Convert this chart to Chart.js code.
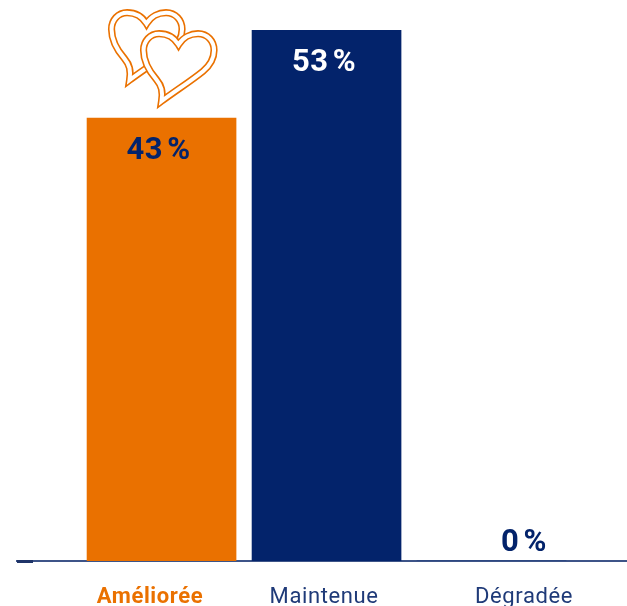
<!DOCTYPE html>
<html><head><meta charset="utf-8">
<script src="https://cdn.jsdelivr.net/npm/chart.js@4"></script>
<style>html,body{margin:0;padding:0;background:#fff}#w{width:627px;height:606px;position:relative}</style>
</head><body><div id="w"><canvas id="c"></canvas></div>
<script>
const categories = ["Améliorée", "Maintenue", "Dégradée"];
const barValues = [44.2, 53, 0];
const valueLabels = ["43 %", "53 %", "0 %"];
const ORANGE = "#EA7100", NAVY = "#03236B";
const FONT = "Roboto, sans-serif";

const heartPath = new Path2D("M178.5 44.5C183 37 191 33.5 198 33.5C207.5 33.5 214 41 214 50C214 58 209.5 65.5 203 71C192 80 175 91 161.5 101C163 91 161.5 85.5 156.5 79.5C150 72 143.5 62 143.5 50C143.5 41 150 33.5 159 33.5C167 33.5 174 37 178.5 44.5Z");

const decor = {
  id: "decor",
  beforeDraw(chart) { chart.ctx.letterSpacing = "0.6px"; },
  afterDatasetsDraw(chart) {
    const ctx = chart.ctx, bars = chart.getDatasetMeta(0).data;
    // value labels
    const style = [[-3, 33, NAVY], [-2.5, 33, "#fff"], [32.5, -18, NAVY]];
    ctx.save();
    ctx.textAlign = "center"; ctx.textBaseline = "middle";
    ctx.font = "700 31px " + FONT;
    ctx.letterSpacing = "0.5px";
    ctx.wordSpacing = "-4px";
    valueLabels.forEach((t, i) => {
      ctx.fillStyle = style[i][2];
      ctx.fillText(t, bars[i].x + style[i][0], bars[i].y + style[i][1]);
    });
    ctx.restore();
    // hearts, anchored on the first bar
    const dx = bars[0].x - 161.5, dy = bars[0].y - 118;
    ctx.save();
    ctx.translate(dx, dy);
    ctx.lineJoin = "miter"; ctx.miterLimit = 10;
    [[-32, -21], [0, 0]].forEach(([x, y]) => {
      ctx.save();
      ctx.translate(x, y);
      ctx.fillStyle = "#fff"; ctx.fill(heartPath);
      ctx.strokeStyle = ORANGE; ctx.lineWidth = 7.2; ctx.stroke(heartPath);
      ctx.strokeStyle = "#fff"; ctx.lineWidth = 4; ctx.stroke(heartPath);
      ctx.restore();
    });
    ctx.restore();
    // dark stub at the left end of the axis
    const a = chart.chartArea;
    ctx.save();
    ctx.fillStyle = "#1F3468";
    ctx.fillRect(a.left, a.bottom - 1, 16, 3);
    ctx.restore();
  }
};

new Chart(document.getElementById("c"), {
  type: "bar",
  data: {
    labels: categories,
    datasets: [{
      data: barValues.map((v, i) => ({ x: i + 1, y: v })),
      backgroundColor: [ORANGE, NAVY, NAVY],
      barThickness: 149,
      borderWidth: 0
    }]
  },
  options: {
    responsive: true,
    maintainAspectRatio: false,
    animation: false,
    layout: { padding: { left: 17, right: 0, top: 30, bottom: 0 } },
    plugins: { legend: { display: false }, tooltip: { enabled: false } },
    scales: {
      x: {
        type: "linear",
        offset: false,
        min: 0.124,
        max: 3.821,
        afterBuildTicks(s) {
          const shift = [-0.07, -0.015, 0.197];
          s.ticks = categories.map((c, i) => ({ value: i + 1 + shift[i] }));
        },
        afterFit(s) { s.height = 45; },
        grid: { display: false },
        border: { display: true, color: "#3D5488", width: 2 },
        ticks: {
          autoSkip: false,
          maxRotation: 0,
          padding: 15,
          callback: (v, i) => categories[i],
          color: (c) => c.index === 0 ? ORANGE : "#1F3A78",
          font: (c) => ({ family: FONT, size: 22, weight: c.index === 0 ? "700" : "400" })
        }
      },
      y: { display: false, min: 0, max: 53 }
    }
  },
  plugins: [decor]
});
</script></body></html>
